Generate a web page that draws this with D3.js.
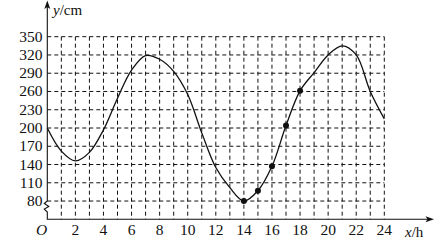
<!DOCTYPE html>
<html>
<head>
<meta charset="utf-8">
<script src="https://cdn.jsdelivr.net/npm/d3@7"></script>
<style>
  html, body { margin: 0; padding: 0; background: #fff; }
  svg text { font-family: "Liberation Serif", "DejaVu Serif", serif; fill: #111; }
</style>
</head>
<body>
<div id="chart"></div>
<script>
// hours on the x axis, water depth (cm)
var hours = [0, 1, 2, 3, 4, 5, 6, 7, 8, 9, 10, 11, 12, 13, 14, 15, 16, 17, 18, 19, 20, 21, 22, 23, 24];
var depth = [200, 162, 146, 160, 197, 249, 295, 319, 313, 293, 255, 192, 135, 102, 80, 97, 137, 204, 261, 291, 320, 335, 320, 260, 215];
var markedHours = [14, 15, 16, 17, 18];
var markedDepth = [80, 97, 137, 204, 261];
var yTicks = [80, 110, 140, 170, 200, 230, 260, 290, 320, 350];
var xTicks = [2, 4, 6, 8, 10, 12, 14, 16, 18, 20, 22, 24];
var gridHours = d3.range(1, 25);

(function(d3) {
  'use strict';
  var width = 442;
  var height = 242;
  var x = d3.scaleLinear().domain([0, 24]).range([47.3, 384.3]);
  var y = d3.scaleLinear().domain([50, 350]).range([219.3, 36.7]);
  var ink = '#111';

  var svg = d3.select('#chart')
    .append('svg')
    .attr('width', width)
    .attr('height', height);

  // dashed grid
  svg.append('g').selectAll('line')
    .data(yTicks)
    .enter()
    .append('line')
    .attr('x1', x(0))
    .attr('x2', x(24))
    .attr('y1', function(d) { return y(d); })
    .attr('y2', function(d) { return y(d); })
    .attr('stroke', ink)
    .attr('stroke-width', 1)
    .attr('stroke-dasharray', '4,3');

  svg.append('g').selectAll('line')
    .data(gridHours)
    .enter()
    .append('line')
    .attr('x1', function(d) { return x(d); })
    .attr('x2', function(d) { return x(d); })
    .attr('y1', y(350))
    .attr('y2', y(50))
    .attr('stroke', ink)
    .attr('stroke-width', 1)
    .attr('stroke-dasharray', '4,3');

  // axes (y axis has a break just under 80)
  var x0 = x(0);
  var yb = y(80);
  svg.append('path')
    .attr('d', 'M' + x0 + ',5 L' + x0 + ',' + yb +
      ' L' + (x0 - 3) + ',' + (yb + 2.5) +
      ' L' + (x0 + 1.5) + ',' + (yb + 5.5) +
      ' L' + (x0 - 3) + ',' + (yb + 8) +
      ' L' + x0 + ',' + (yb + 11) +
      ' L' + x0 + ',' + y(50) +
      ' L' + 428 + ',' + y(50))
    .attr('fill', 'none')
    .attr('stroke', ink)
    .attr('stroke-width', 1.1);

  svg.append('path')
    .attr('d', 'M' + x0 + ',0.5 L' + (x0 - 3) + ',9 L' + x0 + ',7 L' + (x0 + 3) + ',9 Z')
    .attr('fill', ink);
  svg.append('path')
    .attr('d', 'M434,' + y(50) + ' L425.5,' + (y(50) - 3) + ' L427.5,' + y(50) + ' L425.5,' + (y(50) + 3) + ' Z')
    .attr('fill', ink);

  // tick labels
  svg.append('g').selectAll('text')
    .data(yTicks)
    .enter()
    .append('text')
    .attr('x', 42.5)
    .attr('y', function(d) { return y(d) + 5; })
    .attr('text-anchor', 'end')
    .style('font-size', '15.5px')
    .text(function(d) { return d; });

  svg.append('g').selectAll('text')
    .data(xTicks)
    .enter()
    .append('text')
    .attr('x', function(d) { return x(d); })
    .attr('y', 235)
    .attr('text-anchor', 'middle')
    .style('font-size', '15.5px')
    .text(function(d) { return d; });

  svg.append('text')
    .attr('x', 41.5)
    .attr('y', 235)
    .attr('text-anchor', 'middle')
    .style('font-size', '15.5px')
    .style('font-style', 'italic')
    .text('O');

  var yl = svg.append('text').attr('x', 53).attr('y', 15).style('font-size', '15px');
  yl.append('tspan').style('font-style', 'italic').text('y');
  yl.append('tspan').text('/cm');

  var xl = svg.append('text').attr('x', 405).attr('y', 237).style('font-size', '15px');
  xl.append('tspan').style('font-style', 'italic').text('x');
  xl.append('tspan').text('/h');

  // curve
  var line = d3.line()
    .x(function(d, i) { return x(hours[i]); })
    .y(function(d) { return y(d); })
    .curve(d3.curveCatmullRom.alpha(0.5));

  svg.append('path')
    .datum(depth)
    .attr('d', line)
    .attr('fill', 'none')
    .attr('stroke', ink)
    .attr('stroke-width', 1.3);

  svg.append('g').selectAll('circle')
    .data(markedDepth)
    .enter()
    .append('circle')
    .attr('cx', function(d, i) { return x(markedHours[i]); })
    .attr('cy', function(d) { return y(d); })
    .attr('r', 3)
    .attr('fill', ink);
})(window.d3);
</script>
</body>
</html>
